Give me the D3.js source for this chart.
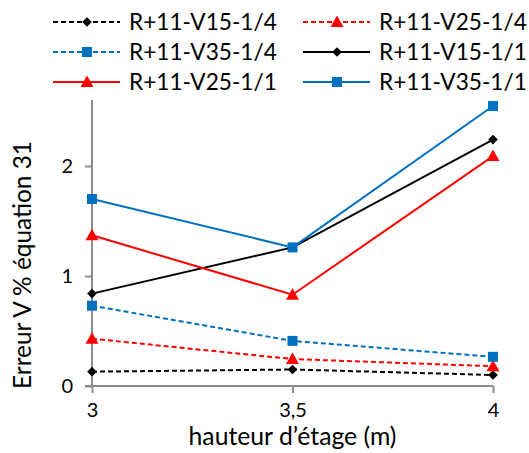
<!DOCTYPE html>
<html>
<head>
<meta charset="utf-8">
<script src="https://cdn.jsdelivr.net/npm/d3@7"></script>
<style>
  html, body { margin: 0; padding: 0; background: #fff; }
  svg { display: block; font-family: Lato, "Open Sans", sans-serif; }
</style>
</head>
<body>
<svg id="chart" width="529" height="453"></svg>
<script>
// Floor heights (m) and error values per series
const heights = [3, 3.5, 4];
const xTickLabels = ["3", "3,5", "4"];
const yTicks = [0, 1, 2];

const v15q = [0.13, 0.15, 0.10];
const v25q = [0.43, 0.245, 0.18];
const v35q = [0.73, 0.41, 0.265];
const v15f = [0.84, 1.26, 2.24];
const v25f = [1.37, 0.83, 2.09];
const v35f = [1.70, 1.26, 2.545];

const seriesNames = [
  "R+11-V15-1/4", "R+11-V25-1/4", "R+11-V35-1/4",
  "R+11-V15-1/1", "R+11-V25-1/1", "R+11-V35-1/1"
];
const seriesValues = [v15q, v25q, v35q, v15f, v25f, v35f];
const seriesColors = ["#000000", "#ff0000", "#0070c0", "#000000", "#ff0000", "#0070c0"];
const seriesDashed = [true, true, true, false, false, false];
const seriesMarkers = ["diamond", "triangle", "square", "diamond", "triangle", "square"];

const svg = d3.select("#chart");

// Shrink or grow a text element's font size until it spans the given width
function fitWidth(sel, width) {
  sel.each(function () {
    const el = d3.select(this);
    const size = parseFloat(el.attr("font-size"));
    const w = this.getComputedTextLength();
    if (w > 0) el.attr("font-size", (size * width / w).toFixed(2));
  });
}

const x = d3.scaleLinear().domain([3, 4]).range([92, 493]);
const y = d3.scaleLinear().domain([0, 2.6]).range([386, 100]);

const axisColor = "#8c8c8c";

// Y axis
const yAxis = svg.append("g").attr("transform", `translate(${x(3)},0)`)
  .call(d3.axisLeft(y).tickValues(yTicks).tickSize(7).tickFormat(d3.format("d")));
yAxis.select(".domain").attr("stroke", axisColor).attr("stroke-width", 2)
  .attr("d", `M0,${y(2.6)}V${y(0)}`);
yAxis.selectAll(".tick line").attr("stroke", axisColor).attr("stroke-width", 2);
yAxis.selectAll(".tick text").attr("fill", "#000").attr("font-size", 20)
  .attr("font-family", "Lato, 'Open Sans', sans-serif").attr("x", -19);

// X axis
const xAxis = svg.append("g").attr("transform", `translate(0,${y(0)})`)
  .call(d3.axisBottom(x).tickValues(heights).tickSize(7)
    .tickFormat((d, i) => xTickLabels[i]));
xAxis.select(".domain").attr("stroke", axisColor).attr("stroke-width", 2)
  .attr("d", `M${x(3) - 7},0H${x(4)}`);
xAxis.selectAll(".tick line").attr("stroke", axisColor).attr("stroke-width", 2);
xAxis.selectAll(".tick text").attr("fill", "#000").attr("font-size", 20)
  .attr("font-family", "Lato, 'Open Sans', sans-serif").attr("y", 17);

// Axis titles
svg.append("text")
  .attr("x", (x(3) + x(4)) / 2).attr("y", 445)
  .attr("text-anchor", "middle").attr("font-size", 21)
  .text("hauteur d\u2019\u00e9tage (m)")
  .call(fitWidth, 208);
svg.append("text")
  .attr("transform", `translate(31,${265}) rotate(-90)`)
  .attr("text-anchor", "middle").attr("font-size", 21)
  .text("Erreur V % \u00e9quation 31")
  .call(fitWidth, 248);

// Marker drawing helper
function marker(g, type, color, cx, cy) {
  if (type === "diamond") {
    g.append("path").attr("d", d3.symbol(d3.symbolDiamond2, 60)())
      .attr("transform", `translate(${cx},${cy})`).attr("fill", color);
  } else if (type === "square") {
    g.append("rect").attr("x", cx - 5).attr("y", cy - 5).attr("width", 10).attr("height", 10)
      .attr("fill", color);
  } else {
    g.append("path").attr("d", `M${cx},${cy - 6.5}L${cx + 6.5},${cy + 5}L${cx - 6.5},${cy + 5}Z`)
      .attr("fill", color);
  }
}

const line = d3.line().x((d, i) => x(heights[i])).y(d => y(d));

// Plot series
seriesValues.forEach((vals, s) => {
  const g = svg.append("g");
  g.append("path").datum(vals).attr("d", line)
    .attr("fill", "none").attr("stroke", seriesColors[s]).attr("stroke-width", 2)
    .attr("stroke-dasharray", seriesDashed[s] ? "5,3" : null);
  vals.forEach((v, i) => marker(g, seriesMarkers[s], seriesColors[s], x(heights[i]), y(v)));
});

// Legend: two columns, three rows
const legendCols = [53, 303];
const legendRows = [22, 52, 82];
seriesNames.forEach((name, s) => {
  const col = s % 2, row = Math.floor(s / 2);
  const lx = legendCols[col], ly = legendRows[row];
  const g = svg.append("g");
  g.append("line").attr("x1", lx).attr("x2", lx + 67).attr("y1", ly).attr("y2", ly)
    .attr("stroke", seriesColors[s]).attr("stroke-width", 2)
    .attr("stroke-dasharray", seriesDashed[s] ? "5,3" : null);
  marker(g, seriesMarkers[s], seriesColors[s], lx + 34, ly);
  g.append("text").attr("x", lx + 76).attr("y", ly).attr("dy", "0.36em")
    .attr("font-size", 23).text(name)
    .call(fitWidth, 148);
});
</script>
</body>
</html>
